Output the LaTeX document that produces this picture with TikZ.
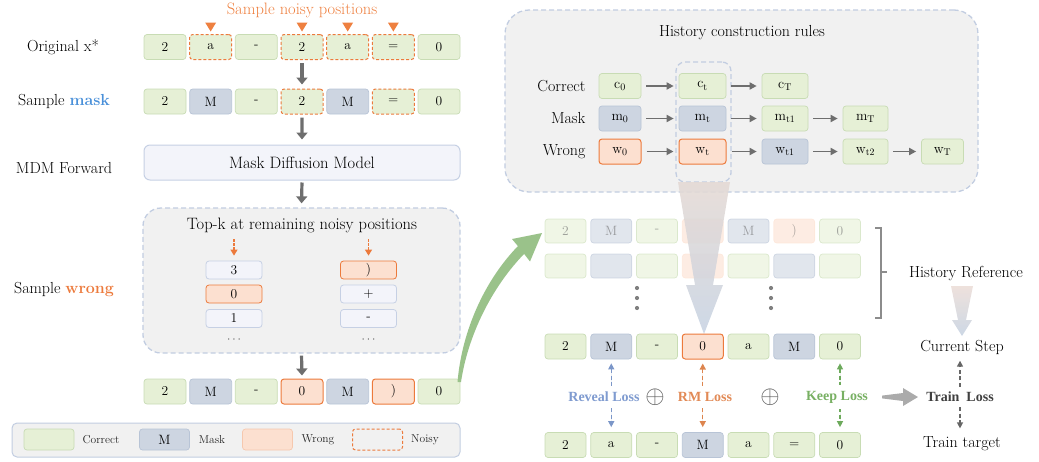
\documentclass[tikz,border=0pt]{standalone}
\usepackage{fontspec}
\newfontfamily\tnr{Liberation Serif}
\usetikzlibrary{arrows.meta}
\definecolor{cgreen}{HTML}{E6F0D6}
\definecolor{cgreenb}{HTML}{C8DCB4}
\definecolor{cblue}{HTML}{CDD5E1}
\definecolor{cblueb}{HTML}{B8C4D6}
\definecolor{corange}{HTML}{FCE0D0}
\definecolor{corangeb}{HTML}{EC7A3C}
\definecolor{corangel}{HTML}{F6C8AE}
\definecolor{clav}{HTML}{F3F4FA}
\definecolor{clavb}{HTML}{C6D0E4}
\definecolor{cdash}{HTML}{C2CDE1}
\definecolor{cgbox}{HTML}{F1F1F1}
\definecolor{carrow}{HTML}{6E6E6E}
\definecolor{corangetxt}{HTML}{EE8040}
\definecolor{cbluetxt}{HTML}{4A90D9}
\definecolor{cgarrow}{HTML}{9AC28A}
\definecolor{lblue}{HTML}{7B96C8}
\definecolor{lorange}{HTML}{DD854E}
\definecolor{lgreen}{HTML}{6DAA5C}
\begin{document}
\begin{tikzpicture}[x=1pt,y=-1pt,
 tok/.style={rounded corners=3pt, minimum width=42pt, minimum height=25pt, inner sep=0pt, font=\fontsize{13.5}{13.5}\selectfont, line width=0.7pt, text=black},
 cor/.style={tok, fill=cgreen, draw=cgreenb},
 msk/.style={tok, fill=cblue, draw=cblueb},
 wrg/.style={tok, fill=corange, draw=corangeb, line width=1pt},
 wrgl/.style={tok, fill=corange, draw=corange},
 noisy/.style={tok, fill=cgreen, draw=corangeb, line width=1pt, dash pattern=on 3pt off 2pt},
 garrow/.style={draw=carrow, line width=3.2pt, -{Triangle[width=11pt,length=7pt]}},
 harrow/.style={draw=carrow, line width=1.8pt, -{Triangle[width=7pt,length=7pt]}, shorten <=5pt, shorten >=5pt},
 lbl/.style={font=\fontsize{16}{18}\selectfont, text=black},
 cand/.style={rounded corners=3pt, minimum width=56pt, minimum height=18pt, inner sep=0pt, font=\fontsize{13.5}{13.5}\selectfont, fill=clav, draw=clavb, line width=0.8pt},
 candw/.style={cand, fill=corange, draw=corangeb},
 dbox/.style={draw=cdash, line width=1.3pt, dash pattern=on 5pt off 3pt, fill=cgbox},
 losslbl/.style={font=\tnr\bfseries\fontsize{14}{14}\selectfont, fill=white, inner xsep=1pt, inner ysep=6pt},
 lossarr/.style={line width=1.3pt, dash pattern=on 4pt off 2.5pt, {Triangle[width=6pt,length=6pt]}-{Triangle[width=6pt,length=6pt]}, shorten <=4pt, shorten >=5pt},
 legtxt/.style={font=\fontsize{11.5}{12}\selectfont, text=black!85},
]
\path[use as bounding box] (0,0) rectangle (1039,461);

% ---------------- left column labels
\node[lbl] (lab1) at (63,47) {Original x*};
\node[lbl] (lab2) at (64,101.5) {Sample \textcolor{cbluetxt}{\bfseries mask}};
\node[lbl] (lab3) at (64,168) {MDM Forward};
\node[lbl] (lab4) at (64,290) {Sample \textcolor{corangeb}{\bfseries wrong}};

% ---------------- row 1: original
\node[font=\fontsize{16.5}{18}\selectfont, text=corangetxt, anchor=base] (snp) at (302,14) {Sample noisy positions};
\foreach \i/\s/\t in {1/cor/2,2/noisy/a,3/cor/-,4/noisy/2,5/noisy/a,6/noisy/=,7/cor/0}
  \node[style=\s] (o\i) at ({165+(\i-1)*45.67},47) {\t};
\foreach \i in {2,4,5,6}
  \fill[corangetxt] (o\i.north) ++(-5.5,-11.5) -- ++(11,0) -- ++(-5.5,9) -- cycle;

% ---------------- row 2: sample mask
\foreach \i/\s/\t in {1/cor/2,2/msk/M,3/cor/-,4/noisy/2,5/msk/M,6/noisy/=,7/cor/0}
  \node[style=\s] (s\i) at ({165+(\i-1)*45.67},101.5) {\t};
\draw[garrow, shorten <=3pt, shorten >=4pt] (o4.south) -- (s4.north);

% ---------------- MDM
\node[draw=clavb, fill=clav, line width=1pt, rounded corners=6pt, minimum width=316pt, minimum height=35pt, font=\fontsize{16.5}{18}\selectfont] (mdm) at (302,162.5) {Mask Diffusion Model};
\draw[garrow, shorten <=3pt, shorten >=5pt] (s4.south) -- (mdm.north);

% ---------------- Top-k box
\node[dbox, rounded corners=18pt, minimum width=317pt, minimum height=145pt] (topk) at (301.5,280.5) {};
\draw[garrow, shorten <=2pt, shorten >=4pt] (mdm.south) -- (topk.north);
\node[font=\fontsize{16.5}{18}\selectfont] (topkt) at (302,225) {Top-k at remaining noisy positions};
\node[cand] (k1) at (234,270) {3};
\node[candw] (k2) at (234,294) {0};
\node[cand] (k3) at (234,318.5) {1};
\node[candw] (q1) at (368.5,270) {)};
\node[cand] (q2) at (368.5,294) {+};
\node[cand] (q3) at (368.5,318.5) {-};
\node[text=black!70, font=\fontsize{12}{12}\selectfont] (kd) at (234,340) {$\cdots$};
\node[text=black!70, font=\fontsize{12}{12}\selectfont] (qd) at (368.5,340) {$\cdots$};
\coordinate (ka) at (234,239);
\coordinate (qa) at (368.5,239);
\draw[corangeb, line width=1.2pt, dash pattern=on 2.5pt off 1.5pt, -{Triangle[width=7pt,length=6pt]}, shorten >=5pt] (ka) -- (k1.north);
\draw[corangeb, line width=1.2pt, dash pattern=on 2.5pt off 1.5pt, -{Triangle[width=7pt,length=6pt]}, shorten >=5pt] (qa) -- (q1.north);

% ---------------- row 3: sample wrong
\foreach \i/\s/\t in {1/cor/2,2/msk/M,3/cor/-,4/wrg/0,5/msk/M,6/wrg/),7/cor/0}
  \node[style=\s] (w\i) at ({165+(\i-1)*45.67},391.5) {\t};
\draw[garrow, shorten <=2pt, shorten >=3pt] (topk.south) -- (w4.north);

% ---------------- legend
\node[draw=cdash, fill=cgbox, line width=1pt, rounded corners=5pt, minimum width=448pt, minimum height=34pt] (leg) at (236,440) {};
\node[tok, fill=cgreen, draw=cgreenb, minimum width=50pt, minimum height=21pt] (lg1) at (49,439.5) {};
\node[legtxt] (lt1) at (101,440) {Correct};
\node[tok, fill=cblue, draw=cblueb, minimum width=50pt, minimum height=21pt] (lg2) at (164.5,439.5) {M};
\node[legtxt] (lt2) at (212,440) {Mask};
\node[tok, fill=corange, draw=corangel, minimum width=50pt, minimum height=21pt] (lg3) at (267.5,439.5) {};
\node[legtxt] (lt3) at (318,440) {Wrong};
\node[tok, draw=corangeb, line width=1pt, dash pattern=on 3pt off 2pt, minimum width=50pt, minimum height=21pt] (lg4) at (377.5,439.5) {};
\node[legtxt] (lt4) at (425,440) {Noisy};

% ---------------- history construction rules
\node[dbox, rounded corners=24pt, minimum width=473pt, minimum height=182pt] (hist) at (741.5,101) {};
\node[font=\fontsize{16}{18}\selectfont] (histt) at (742,33) {History construction rules};
\node[draw=cdash, line width=1.3pt, dash pattern=on 5pt off 3pt, rounded corners=9pt, minimum width=55pt, minimum height=120pt] (hl) at (703.5,122) {};
\node[lbl, anchor=east] (rc) at (589,86) {Correct};
\node[lbl, anchor=east] (rm) at (589,118.5) {Mask};
\node[lbl, anchor=east] (rw) at (589,151.5) {Wrong};
\tikzset{h/.style={minimum width=45pt, minimum height=25pt, font=\fontsize{14}{14}\selectfont}}
\node[cor,h,minimum width=42pt] (c0) at (620,86) {$\mathrm{c}_0$};
\node[cor,h,minimum width=47pt] (ct) at (702.5,86) {$\mathrm{c}_\mathrm{t}$};
\node[cor,h,minimum width=46pt] (cT) at (785,86) {$\mathrm{c}_\mathrm{T}$};
\node[msk,h,minimum width=42pt] (m0) at (620,118.5) {$\mathrm{m}_0$};
\node[msk,h,minimum width=47pt] (mt) at (702.5,118.5) {$\mathrm{m}_\mathrm{t}$};
\node[cor,h,minimum width=46pt] (mt1) at (785,118.5) {$\mathrm{m}_\mathrm{t1}$};
\node[cor,h] (mT) at (865.5,118.5) {$\mathrm{m}_\mathrm{T}$};
\node[wrg,h,minimum width=42pt] (w0) at (620,151.5) {$\mathrm{w}_0$};
\node[wrg,h,minimum width=47pt] (wt) at (702.5,151.5) {$\mathrm{w}_\mathrm{t}$};
\node[msk,h,minimum width=46pt] (wt1) at (785,151.5) {$\mathrm{w}_\mathrm{t1}$};
\node[cor,h] (wt2) at (865.5,151.5) {$\mathrm{w}_\mathrm{t2}$};
\node[cor,h,minimum width=42pt] (wT) at (942.5,151.5) {$\mathrm{w}_\mathrm{T}$};
\draw[harrow] (c0) -- (ct);
\draw[harrow] (ct) -- (cT);
\draw[harrow] (m0) -- (mt);
\draw[harrow] (mt) -- (mt1);
\draw[harrow] (mt1) -- (mT);
\draw[harrow] (w0) -- (wt);
\draw[harrow] (wt) -- (wt1);
\draw[harrow] (wt1) -- (wt2);
\draw[harrow] (wt2) -- (wT);

% ---------------- history reference rows (faded)
\begin{scope}[opacity=0.6]
\foreach \i/\s/\t in {1/cor/2,2/msk/M,3/cor/-,4/wrgl/{},5/msk/M,6/wrgl/),7/cor/0}
  \node[style=\s, minimum width=41pt, minimum height=24pt, text=black!60] (ha\i) at ({565.5+(\i-1)*45.75},231) {\t};
\foreach \i/\s in {1/cor,2/msk,3/cor,4/wrgl,5/cor,6/msk,7/cor}
  \node[style=\s, minimum width=41pt, minimum height=24pt] (hb\i) at ({565.5+(\i-1)*45.75},266) {};
\end{scope}
\foreach \yy in {288,298,308} {
  \fill[black!50] (637,\yy) circle (2.1pt);
  \fill[black!50] (771,\yy) circle (2.1pt);
}
\draw[black!45, line width=1.5pt] (875,228) -- (881,228) -- (881,318) -- (875,318);
\draw[black!45, line width=1.5pt] (881,272) -- (887,272);
\node[lbl] (href) at (966,274) {History Reference};

% big gradient arrow
\shade[top color={rgb,255:red,228;green,217;blue,212}, middle color={rgb,255:red,249;green,216;blue,198}, bottom color={rgb,255:red,199;green,211;blue,226}, opacity=0.88]
  (678,182) -- (730,182) -- (713,285) -- (723,285) -- (704,334) -- (686,285) -- (695,285) -- cycle;
% small gradient arrow
\shade[top color={rgb,255:red,236;green,222;blue,216}, middle color={rgb,255:red,249;green,214;blue,196}, bottom color={rgb,255:red,199;green,211;blue,226}, opacity=0.9]
  (951,286) -- (973,286) -- (966,320) -- (972,320) -- (962,336) -- (952,320) -- (958,320) -- cycle;

% ---------------- current step and target
\foreach \i/\s/\t in {1/cor/2,2/msk/M,3/cor/-,4/wrg/0,5/cor/a,6/msk/M,7/cor/0}
  \node[style=\s, minimum width=41pt] (c\i) at ({565.5+(\i-1)*45.75},346.5) {\t};
\foreach \i/\s/\t in {1/cor/2,2/cor/a,3/cor/-,4/msk/M,5/cor/a,6/cor/=,7/cor/0}
  \node[style=\s, minimum width=41pt] (t\i) at ({565.5+(\i-1)*45.75},445) {\t};

\draw[lossarr, draw=lblue, fill=lblue] (c2.south) -- (t2.north);
\draw[lossarr, draw=lorange, fill=lorange] (c4.south) -- (t4.north);
\draw[lossarr, draw=lgreen, fill=lgreen] (c7.south) -- (t7.north);
\node[losslbl, text={rgb,255:red,127;green,155;blue,208}] (rl) at (604,397) {Reveal Loss};
\node[losslbl, text={rgb,255:red,226;green,138;blue,86}] (rml) at (705,397) {RM Loss};
\node[losslbl, text={rgb,255:red,120;green,176;blue,99}] (kl) at (837,397) {Keep Loss};
\node[text=black!65, font=\fontsize{25}{25}\selectfont] (op1) at (655,397) {$\oplus$};
\node[text=black!65, font=\fontsize{25}{25}\selectfont] (op2) at (770,397) {$\oplus$};

\fill[black!33] (882,395.6) -- (903,393) -- (903,388) -- (918,397) -- (903,406) -- (903,401) -- (882,398.4) -- cycle;

\node[lbl] (cs) at (962,347) {Current Step};
\node[lbl] (tt) at (962,444) {Train target};
\node[font=\tnr\bfseries\fontsize{14}{14}\selectfont, text=black!75, inner ysep=5pt] (tl) at (960,397) {Train\ \ Loss};
\draw[black!60, line width=1.3pt, dash pattern=on 4pt off 2.5pt, -{Triangle[width=6pt,length=6pt]}, shorten >=3pt] (tl.north) -- (tl.north |- cs.south);
\draw[black!60, line width=1.3pt, dash pattern=on 4pt off 2.5pt, -{Triangle[width=6pt,length=6pt]}, shorten >=5pt] (tl.south) -- (tl.south |- tt.north);

% ---------------- green curved arrow
\fill[cgarrow] (457.5,382) .. controls (462,330) and (485,280) .. (517.9,246.1) -- (512,239) -- (542,233) -- (530,261.5) -- (524.1,253.9) .. controls (492,287) and (468,335) .. (461,382) -- cycle;
\end{tikzpicture}
\end{document}
